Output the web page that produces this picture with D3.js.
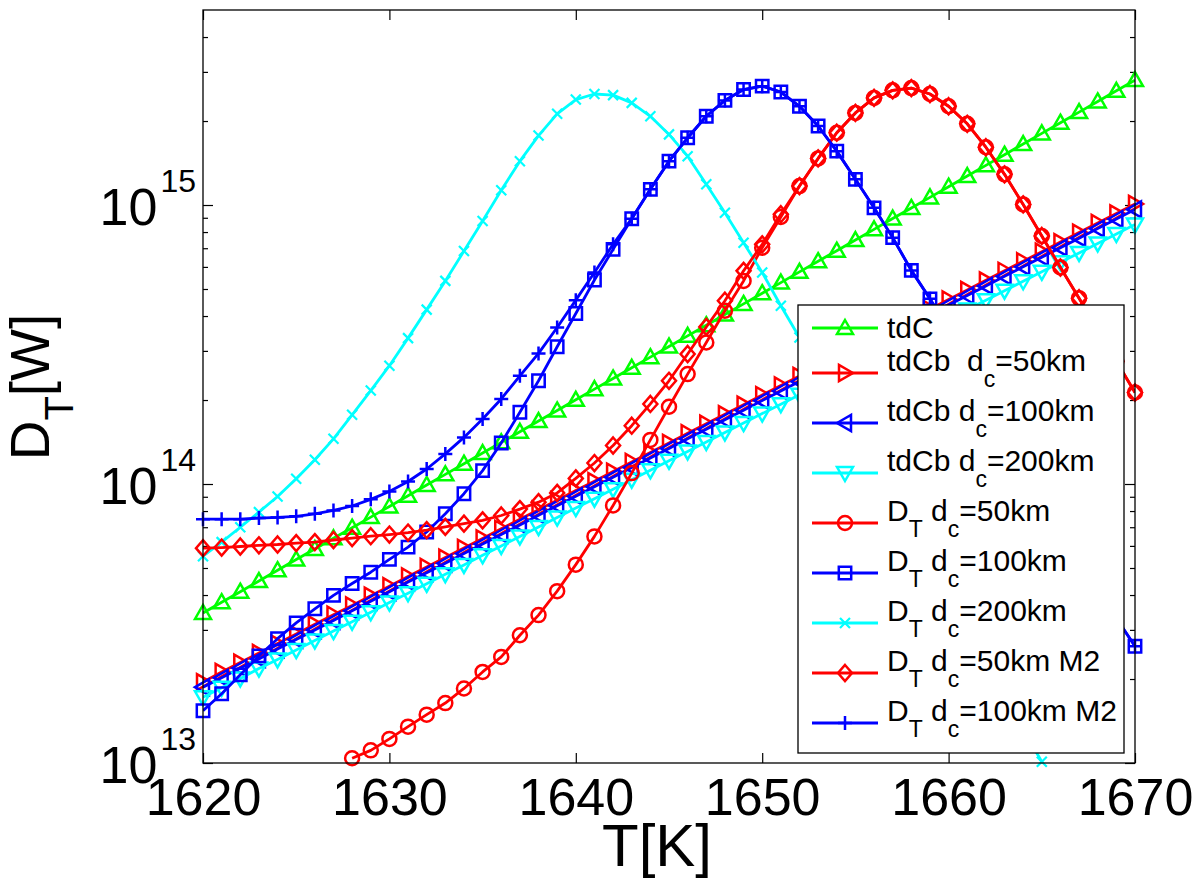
<!DOCTYPE html>
<html>
<head>
<meta charset="utf-8">
<script src="https://cdn.jsdelivr.net/npm/d3@7"></script>
<style>
  body { margin: 0; background: #fff; }
  text { font-family: "Liberation Sans", Arial, Helvetica, sans-serif; fill: #000; white-space: pre; }
</style>
</head>
<body>
<div id="chart"></div>
<script>
// Temperature axis (K), one point per kelvin
var temps = d3.range(1620, 1671);

// All series in units of 1e13 W (null = not plotted)
var UNIT = 1e13;

var tdC = [3.45, 3.77, 4.11, 4.49, 4.91, 5.36, 5.85, 6.39, 6.97, 7.61,
  8.31, 9.08, 9.92, 10.83, 11.82, 12.91, 14.10, 15.39, 16.81, 18.35,
  20.04, 21.88, 23.89, 26.09, 28.49, 31.1, 33.96, 37.08, 40.49, 44.21,
  48.3, 52.7, 57.6, 62.9, 68.6, 74.9, 81.8, 89.4, 97.6, 106.5,
  116.3, 127.0, 138.7, 151.5, 165.4, 180.6, 197.2, 215.3, 235.1, 256.7, 280.3];

var tdCb50 = [1.95, 2.12, 2.29, 2.48, 2.68, 2.90, 3.14, 3.40, 3.67, 3.98,
  4.30, 4.66, 5.04, 5.45, 5.90, 6.38, 6.91, 7.47, 8.09, 8.75,
  9.47, 10.24, 11.08, 11.99, 12.98, 14.04, 15.20, 16.44, 17.80, 19.25,
  20.84, 22.55, 24.40, 26.40, 28.57, 30.92, 33.45, 36.20, 39.17, 42.38,
  45.86, 49.63, 53.70, 58.11, 62.87, 68.04, 73.62, 79.66, 86.20, 93.27, 100.9];

var tdCb100 = [1.87, 2.02, 2.19, 2.36, 2.56, 2.77, 3.00, 3.24, 3.51, 3.80,
  4.11, 4.45, 4.81, 5.20, 5.63, 6.09, 6.59, 7.13, 7.72, 8.36,
  9.04, 9.78, 10.58, 11.45, 12.40, 13.41, 14.52, 15.70, 17.00, 18.38,
  19.90, 21.54, 23.30, 25.21, 27.28, 29.53, 31.94, 34.57, 37.41, 40.47,
  43.80, 47.40, 51.28, 55.50, 60.04, 64.98, 70.31, 76.08, 82.32, 89.07, 96.4];

var tdCb200 = [1.72, 1.86, 2.01, 2.18, 2.35, 2.54, 2.75, 2.97, 3.21, 3.47,
  3.76, 4.06, 4.39, 4.75, 5.13, 5.55, 6.00, 6.49, 7.01, 7.58,
  8.20, 8.86, 9.58, 10.36, 11.20, 12.11, 13.09, 14.15, 15.30, 16.54,
  17.88, 19.33, 20.90, 22.59, 24.43, 26.41, 28.55, 30.87, 33.37, 36.08,
  39.01, 42.18, 45.60, 49.30, 53.30, 57.62, 62.30, 67.35, 72.81, 78.72, 85.11];

var dt50 = [null, null, null, null, null, null, null, null,
  1.04, 1.11, 1.22, 1.35, 1.49, 1.64, 1.85, 2.12, 2.40, 2.87,
  3.39, 4.13, 5.14, 6.49, 8.38, 10.94, 14.39, 18.92, 24.77, 32.14,
  41.78, 53.46, 70.31, 90.57, 116.9, 146.9, 181.6, 213.8, 242.1, 257.6,
  262.4, 250.0, 225.9, 195.4, 161.1, 128.8, 100.5, 77.45, 59.70, 46.34,
  35.73, 27.54, 21.28];

var dt100 = [1.54, 1.77, 2.07, 2.42, 2.79, 3.18, 3.57, 3.99, 4.40, 4.83,
  5.37, 5.94, 6.73, 7.82, 9.23, 11.17, 14.03, 18.07, 23.44, 31.05,
  40.83, 53.83, 69.34, 89.33, 113.8, 143.6, 174.2, 208.0, 237.1, 259.4,
  266.7, 254.1, 225.9, 191.9, 156.0, 123.6, 97.7, 76.4, 58.3, 46.1,
  35.7, 27.4, 20.9, 15.92, 12.13, 9.25, 7.10, 5.46, 4.23, 3.30, 2.62];

var dt200 = [5.51, 6.19, 7.00, 7.93, 9.02, 10.45, 12.22, 14.52, 17.70, 21.63,
  26.55, 33.34, 42.17, 53.46, 68.39, 87.70, 113.0, 143.6, 177.4, 212.3,
  238.8, 250.0, 247.7, 232.3, 208.0, 179.1, 149.6, 118.6, 93.76, 73.28,
  57.28, 43.55, 33.50, 25.59, 19.54, 14.93, 11.40, 8.71, 6.65, 5.08,
  3.88, 2.97, 2.27, 1.73, 1.32, 1.01, 0.77, 0.59, 0.45, 0.34, 0.26];

var dt50M2 = [5.89, 5.92, 5.97, 6.03, 6.07, 6.14, 6.19, 6.30, 6.40, 6.50,
  6.59, 6.70, 6.84, 7.02, 7.21, 7.41, 7.71, 8.13, 8.61, 9.29,
  10.47, 11.89, 13.74, 16.18, 19.36, 23.44, 29.24, 36.56, 45.39, 58.08,
  72.28, 92.68, 116.9, 146.9, 181.6, 213.8, 242.1, 257.6, 262.4, 250.0,
  225.9, 195.4, 161.1, 128.8, 100.5, 77.45, 59.70, 46.34, 35.73, 27.54, 21.28];

var dt100M2 = [7.48, 7.48, 7.48, 7.55, 7.59, 7.66, 7.82, 8.04, 8.34, 8.81,
  9.40, 10.21, 11.32, 12.82, 14.69, 17.10, 20.18, 24.43, 29.38, 36.39,
  45.60, 57.28, 72.28, 89.33, 113.8, 143.6, 174.2, 208.0, 237.1, 259.4,
  266.7, 254.1, 225.9, 191.9, 156.0, 123.6, 97.7, 76.4, 58.3, 46.1,
  35.7, 27.4, 20.9, 15.92, 12.13, 9.25, 7.10, 5.46, 4.23, 3.30, 2.62];

// Ticks
var xTicks = [1620, 1630, 1640, 1650, 1660, 1670];
var yTicks = [1e13, 1e14, 1e15];
var yTickExp = ["13", "14", "15"];
var yMinorTicks = [2e13, 3e13, 4e13, 5e13, 6e13, 7e13, 8e13, 9e13,
  2e14, 3e14, 4e14, 5e14, 6e14, 7e14, 8e14, 9e14,
  2e15, 3e15, 4e15];

// Legend labels: [text, isSubscript]
var legendLabels = [
  [["tdC", 0]],
  [["tdCb  d", 0], ["c", 1], ["=50km", 0]],
  [["tdCb d", 0], ["c", 1], ["=100km", 0]],
  [["tdCb d", 0], ["c", 1], ["=200km", 0]],
  [["D", 0], ["T", 1], [" d", 0], ["c", 1], ["=50km", 0]],
  [["D", 0], ["T", 1], [" d", 0], ["c", 1], ["=100km", 0]],
  [["D", 0], ["T", 1], [" d", 0], ["c", 1], ["=200km", 0]],
  [["D", 0], ["T", 1], [" d", 0], ["c", 1], ["=50km M2", 0]],
  [["D", 0], ["T", 1], [" d", 0], ["c", 1], ["=100km M2", 0]]
];

// series in plot order
var seriesList = [
  {values: tdC, color: "#00ff00", marker: "triUp"},
  {values: tdCb50, color: "#ff0000", marker: "triRight"},
  {values: tdCb100, color: "#0000ff", marker: "triLeft"},
  {values: tdCb200, color: "#00ffff", marker: "triDown"},
  {values: dt50, color: "#ff0000", marker: "circle"},
  {values: dt100, color: "#0000ff", marker: "square"},
  {values: dt200, color: "#00ffff", marker: "x"},
  {values: dt50M2, color: "#ff0000", marker: "diamond"},
  {values: dt100M2, color: "#0000ff", marker: "plus"}
];

// SVG window
var svgWidth = 1200;
var svgHeight = 886;

var margin = {
  top: 10,
  right: 65,
  bottom: 123,
  left: 203
};

var width = svgWidth - margin.left - margin.right;
var height = svgHeight - margin.top - margin.bottom;

var svg = d3.select("#chart")
  .append("svg")
  .attr("width", svgWidth)
  .attr("height", svgHeight);

svg.append("rect")
  .attr("width", svgWidth)
  .attr("height", svgHeight)
  .attr("fill", "#fff");

var chartGroup = svg.append("g")
  .attr("transform", `translate(${margin.left}, ${margin.top})`);

// Scales
var xScale = d3.scaleLinear()
  .domain([1620, 1670])
  .range([0, width]);

var yScale = d3.scaleLog()
  .domain([1e13, 5e15])
  .range([height, 0]);

// marker shapes (MATLAB style, open)
function markerPath(type) {
  switch (type) {
    case "triUp": return "M0,-8L8,6L-8,6Z";
    case "triDown": return "M0,8L8,-6L-8,-6Z";
    case "triRight": return "M8,0L-6,-8L-6,8Z";
    case "triLeft": return "M-8,0L6,-8L6,8Z";
    case "circle": return "M7,0A7,7 0 1,1 -7,0A7,7 0 1,1 7,0Z";
    case "square": return "M-6.2,-6.2H6.2V6.2H-6.2Z";
    case "diamond": return "M0,-8L7,0L0,8L-7,0Z";
    case "x": return "M-5,-5L5,5M-5,5L5,-5";
    case "plus": return "M-7,0H7M0,-7V7";
  }
}

// clip for lines
svg.append("defs").append("clipPath")
  .attr("id", "plotClip")
  .append("rect")
  .attr("width", width)
  .attr("height", height);

// Axes with inward ticks
var bottomAxis = d3.axisBottom(xScale)
  .tickValues(xTicks)
  .tickSizeInner(-10)
  .tickSizeOuter(0)
  .tickPadding(15)
  .tickFormat(d3.format("d"));

var xAxis = chartGroup.append("g")
  .attr("transform", `translate(0, ${height})`)
  .call(bottomAxis);

xAxis.selectAll("text")
  .style("font-size", "52px");

chartGroup.append("g")
  .call(d3.axisTop(xScale).tickValues(xTicks).tickSizeInner(-10).tickSizeOuter(0).tickFormat(""));

chartGroup.append("g")
  .call(d3.axisLeft(yScale).tickValues(yTicks).tickSizeInner(-10).tickSizeOuter(0).tickFormat(""));

chartGroup.append("g")
  .call(d3.axisLeft(yScale).tickValues(yMinorTicks).tickSizeInner(-5).tickSizeOuter(0).tickFormat(""));

chartGroup.append("g")
  .attr("transform", `translate(${width}, 0)`)
  .call(d3.axisRight(yScale).tickValues(yTicks).tickSizeInner(-10).tickSizeOuter(0).tickFormat(""));

chartGroup.append("g")
  .attr("transform", `translate(${width}, 0)`)
  .call(d3.axisRight(yScale).tickValues(yMinorTicks).tickSizeInner(-5).tickSizeOuter(0).tickFormat(""));

chartGroup.selectAll(".domain").remove();
chartGroup.selectAll(".tick line").attr("stroke", "#000").attr("stroke-width", 1.2);

// y tick labels 10^n
yTicks.forEach(function(v, i) {
  var t = chartGroup.append("text")
    .attr("x", -7)
    .attr("y", yScale(v) + 20)
    .attr("text-anchor", "end")
    .style("font-size", "52px")
    .text("10");
  t.append("tspan")
    .attr("dx", 3)
    .attr("dy", -33)
    .style("font-size", "32px")
    .text(yTickExp[i]);
});

// Lines and markers
var lineGen = d3.line()
  .defined(d => d.v != null)
  .x(d => xScale(d.t))
  .y(d => yScale(d.v));

var plotGroup = chartGroup.append("g");

seriesList.forEach(function(s) {
  var pts = temps.map((t, i) => ({t: t, v: s.values[i] == null ? null : s.values[i] * UNIT}));

  plotGroup.append("path")
    .datum(pts)
    .attr("clip-path", "url(#plotClip)")
    .attr("fill", "none")
    .attr("stroke", s.color)
    .attr("stroke-width", 2.8)
    .attr("stroke-linejoin", "round")
    .attr("d", lineGen);

  plotGroup.selectAll(null)
    .data(pts.filter(d => d.v != null && d.v >= 1e13))
    .enter()
    .append("path")
    .attr("transform", d => `translate(${xScale(d.t)}, ${yScale(d.v)})`)
    .attr("d", markerPath(s.marker))
    .attr("fill", "none")
    .attr("stroke", s.color)
    .attr("stroke-width", s.marker == "x" ? 2.2 : 2.5);
});

// Frame
chartGroup.append("rect")
  .attr("width", width)
  .attr("height", height)
  .attr("fill", "none")
  .attr("stroke", "#000")
  .attr("stroke-width", 1.3);

// Axis labels
svg.append("text")
  .attr("x", 657)
  .attr("y", 866)
  .attr("text-anchor", "middle")
  .style("font-size", "60px")
  .text("T[K]");

var yLabel = svg.append("text")
  .attr("transform", "translate(49, 387) rotate(-90)")
  .attr("text-anchor", "middle")
  .style("font-size", "55px");
yLabel.append("tspan").text("D");
yLabel.append("tspan").attr("dy", 24).style("font-size", "40px").text("T");
yLabel.append("tspan").attr("dy", -24).text("[W]");

// Legend
var legend = svg.append("g");

legend.append("rect")
  .attr("x", 798)
  .attr("y", 305)
  .attr("width", 326)
  .attr("height", 448)
  .attr("fill", "#fff")
  .attr("stroke", "#000")
  .attr("stroke-width", 1.3);

legendLabels.forEach(function(parts, i) {
  var s = seriesList[i];
  var ly = i == 0 ? 328 : 373 + (i - 1) * 50;

  legend.append("line")
    .attr("x1", 812)
    .attr("x2", 878)
    .attr("y1", ly)
    .attr("y2", ly)
    .attr("stroke", s.color)
    .attr("stroke-width", 2.8);

  legend.append("path")
    .attr("transform", `translate(845, ${ly})`)
    .attr("d", markerPath(s.marker))
    .attr("fill", "none")
    .attr("stroke", s.color)
    .attr("stroke-width", s.marker == "x" ? 2.2 : 2.5);

  var label = legend.append("text")
    .attr("x", 887)
    .attr("y", parts.length == 1 ? ly + 10 : ly - 2)
    .style("font-size", "30px");

  var shift = 0;
  parts.forEach(function(p) {
    var dy = 0;
    if (p[1] && shift == 0) { dy = 16; shift = 16; }
    else if (!p[1] && shift != 0) { dy = -16; shift = 0; }
    label.append("tspan")
      .attr("dy", dy)
      .style("font-size", p[1] ? "23px" : "30px")
      .text(p[0]);
  });
});
</script>
</body>
</html>
